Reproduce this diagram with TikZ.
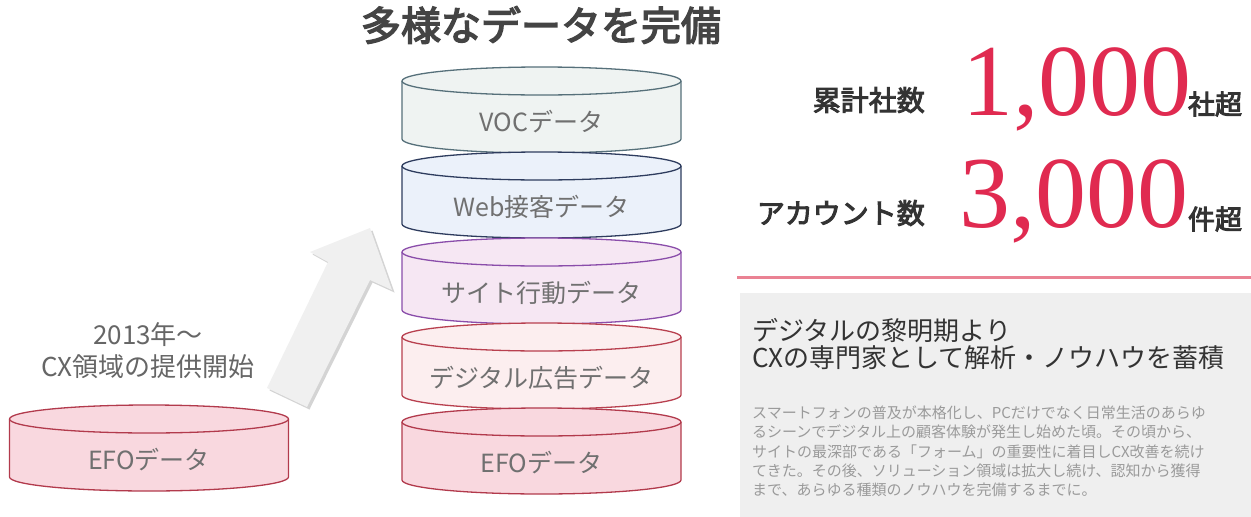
\documentclass[tikz,border=0pt]{standalone}
\usepackage{fontspec}
\setmainfont{Noto Sans CJK JP}
\newfontfamily\numfont{Liberation Serif}
\newfontfamily\medfont{Noto Sans CJK JP}[FakeBold=3.5]
\definecolor{txtgray}{HTML}{707070}
\definecolor{lblgray}{HTML}{666666}
\definecolor{titlegray}{HTML}{444444}
\definecolor{darktxt}{HTML}{333333}
\definecolor{paragray}{HTML}{9A9A9A}
\definecolor{numred}{HTML}{E02A50}
\definecolor{pinkline}{HTML}{EA8293}
\definecolor{boxgray}{HTML}{EFEFEF}
\definecolor{vocfill}{HTML}{EFF3F2}
\definecolor{vocline}{HTML}{56707A}
\definecolor{webfill}{HTML}{EBF1FA}
\definecolor{webline}{HTML}{2E3C5E}
\definecolor{sitefill}{HTML}{F6E7F3}
\definecolor{siteline}{HTML}{8A4DAA}
\definecolor{adfill}{HTML}{FCEEEF}
\definecolor{adline}{HTML}{B8404F}
\definecolor{efofill}{HTML}{F9D8DF}
\definecolor{efoline}{HTML}{B23A4C}
\definecolor{arrowfill}{HTML}{F0F0F0}
\definecolor{arrowshadow}{HTML}{D4D4D4}
\tikzset{
  cyltext/.style={text=txtgray, font=\fontsize{25}{25}\selectfont, inner sep=0pt},
  cylline/.style={line width=1.3pt},
  lbltext/.style={text=lblgray, font=\fontsize{26}{26}\selectfont, inner sep=0pt},
  stattext/.style={text=darktxt, font=\fontsize{28}{28}\selectfont\medfont, inner sep=0pt},
  bignum/.style={text=numred, font=\fontsize{102}{102}\selectfont\numfont, inner sep=0pt},
  unittext/.style={text=darktxt, font=\fontsize{27}{27}\selectfont\medfont, inner sep=0pt},
}
\newcommand\dbcyl[6]{%
  \begin{scope}[shift={(#2)}]
    \fill[#4] (-139.5,0) -- (-139.5,-58) arc[start angle=180,end angle=360,x radius=139.5,y radius=14] -- (139.5,0) -- cycle;
    \fill[#4] (0,0) ellipse[x radius=139.5,y radius=14];
    \draw[#5,cylline] (-139.5,0) -- (-139.5,-58) arc[start angle=180,end angle=360,x radius=139.5,y radius=14] -- (139.5,0);
    \draw[#5,cylline] (0,0) ellipse[x radius=139.5,y radius=14];
    \node[cyltext] (#1) at (0,-41) {#6};
  \end{scope}}
\begin{document}
\begin{tikzpicture}[x=1pt,y=1pt]
\fill[white] (0,0) rectangle (1251,-517);
\useasboundingbox (0,0) rectangle (1251,-517);

% title
\node[text=titlegray, font=\fontsize{40}{40}\selectfont\medfont, inner sep=0pt] (title) at (541,-25) {多様なデータを完備};

% right stack
\dbcyl{voc}{541.5,-81}{}{vocfill}{vocline}{VOCデータ}
\dbcyl{web}{541.5,-166}{}{webfill}{webline}{Web接客データ}
\dbcyl{site}{541.5,-252}{}{sitefill}{siteline}{サイト行動データ}
\dbcyl{ad}{541.5,-337}{}{adfill}{adline}{デジタル広告データ}
\dbcyl{efo}{541.5,-422}{}{efofill}{efoline}{EFOデータ}

% left cylinder
\dbcyl{efoleft}{149,-419}{}{efofill}{efoline}{EFOデータ}

% label
\node[lbltext] (lbl1) at (148,-335) {2013年～};
\node[lbltext] (lbl2) at (148,-367) {CX領域の提供開始};

% arrow
\begin{scope}[shift={(2.5,-2.5)}]
\fill[arrowshadow] (370,-228) -- (392,-290) -- (370,-280) -- (307,-407) -- (267,-388) -- (328,-262) -- (310,-252) -- cycle;
\end{scope}
\fill[arrowfill] (370,-228) coordinate (tip) -- (392,-290) -- (370,-280) -- (307,-407) -- (267,-388) -- (328,-262) -- (310,-252) -- cycle;

% stats
\node[stattext, anchor=east] (s1) at (925,-100) {累計社数};
\node[bignum, anchor=base west] (n1) at (962,-115) {1,000};
\node[unittext] (u1) at (1215,-104) {社超};
\node[stattext, anchor=east] (s2) at (925,-213) {アカウント数};
\node[bignum, anchor=base west] (n2) at (959,-227) {3,000};
\node[unittext] (u2) at (1215,-219) {件超};

% pink line
\draw[pinkline, line width=3pt] (737,-277) coordinate (pl1) -- (1251,-277) coordinate (pl2);

% gray box
\fill[boxgray] (740,-293) rectangle (1251,-517);
\node[text=darktxt, font=\fontsize{26}{27}\selectfont, align=left, anchor=west, inner sep=0pt] (head) at (752,-344.5)
  {デジタルの黎明期より\\CXの専門家として解析・ノウハウを蓄積};
\node[text=paragray, font=\fontsize{15}{19.25}\selectfont, align=left, anchor=west, inner sep=0pt] (para) at (752,-451.5)
  {スマートフォンの普及が本格化し、PCだけでなく日常生活のあらゆ\\るシーンでデジタル上の顧客体験が発生し始めた頃。その頃から、\\サイトの最深部である「フォーム」の重要性に着目しCX改善を続け\\てきた。その後、ソリューション領域は拡大し続け、認知から獲得\\まで、あらゆる種類のノウハウを完備するまでに。};
\end{tikzpicture}
\end{document}
